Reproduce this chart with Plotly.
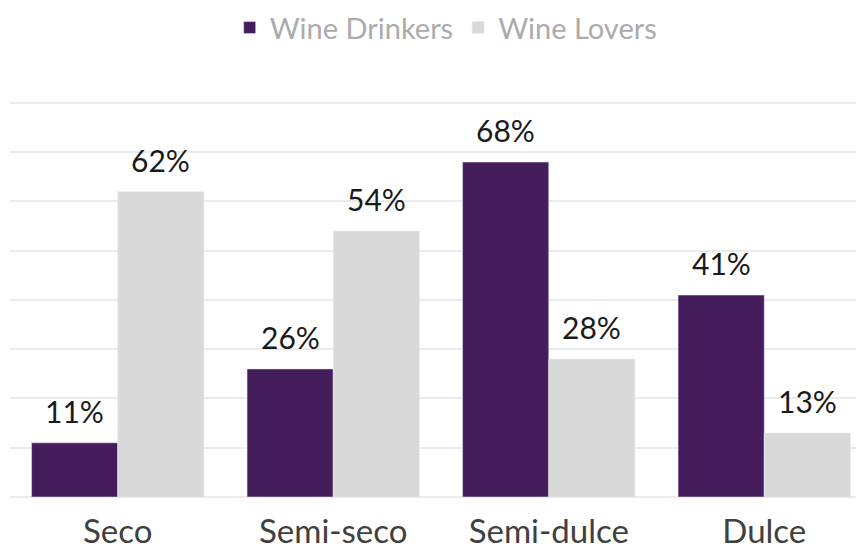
import plotly.graph_objects as go

categories = ["Seco", "Semi-seco", "Semi-dulce", "Dulce"]
wine_drinkers = [11, 26, 68, 41]
wine_lovers = [62, 54, 28, 13]

PURPLE = "#461d5c"
GREY = "#d9d9d9"
FONT = "Lato, Open Sans, Arial"

fig = go.Figure()
fig.add_trace(go.Bar(name="Wine Drinkers", x=categories, y=wine_drinkers,
                     marker_color=PURPLE))
fig.add_trace(go.Bar(name="Wine Lovers", x=categories, y=wine_lovers,
                     marker_color=GREY))

# value labels floating above each bar
for vals, shift in ((wine_drinkers, -43), (wine_lovers, 43)):
    for cat, v in zip(categories, vals):
        fig.add_annotation(x=cat, y=v, text=f"{v}%", showarrow=False,
                           xshift=shift, yanchor="bottom", yshift=12,
                           font=dict(family=FONT, size=30, color="#1a1a1a"))

fig.update_layout(
    width=864, height=550,
    barmode="group", bargap=0.2, bargroupgap=0,
    plot_bgcolor="white", paper_bgcolor="white",
    margin=dict(l=2, r=0, t=93, b=61, autoexpand=False),
    font=dict(family=FONT),
    legend=dict(orientation="h", x=0.506, xanchor="center",
                y=1.185, yanchor="middle",
                font=dict(family=FONT, size=29, color="#ababab")),
)
fig.update_xaxes(range=[-0.5, 3.5], showline=False, ticks="",
                 automargin=False, ticklabelstandoff=12,
                 tickfont=dict(family=FONT, size=33, color="#404040"))
fig.update_yaxes(range=[0, 80.4], dtick=10, showticklabels=False,
                 automargin=False,
                 gridcolor="#ebebeb", gridwidth=2, zeroline=True,
                 zerolinecolor="#ebebeb", zerolinewidth=2)

fig.write_html("out.html")
